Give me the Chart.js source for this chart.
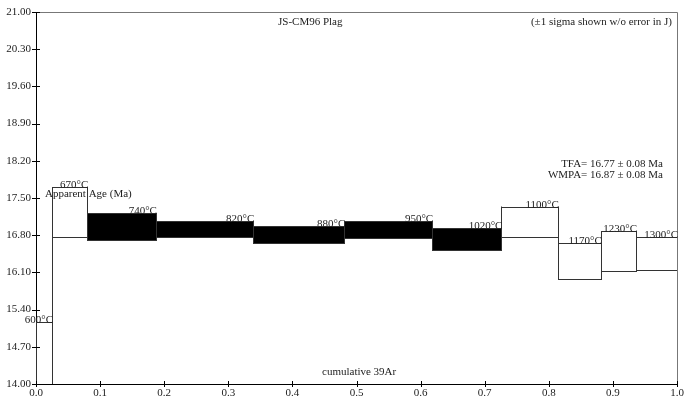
<!DOCTYPE html>
<html><head><meta charset="utf-8">
<script src="https://cdn.jsdelivr.net/npm/chart.js@4.4.1/dist/chart.umd.min.js"></script>
<style>html,body{margin:0;padding:0;background:#fff}#wrap{width:685px;height:402px;position:relative}</style>
</head><body><div id="wrap"><canvas id="c"></canvas></div>
<script>
// ---- data ----
const stepLabels = ['600°C','670°C','740°C','820°C','880°C','950°C','1020°C','1100°C','1170°C','1230°C','1300°C'];
const cumStart   = [0.000, 0.025, 0.080, 0.187, 0.339, 0.481, 0.618, 0.726, 0.814, 0.881, 0.936];
const cumEnd     = [0.025, 0.080, 0.187, 0.339, 0.481, 0.618, 0.726, 0.814, 0.881, 0.936, 1.000];
const ages       = [14.20, 17.235, 16.96, 16.92, 16.81, 16.905, 16.735, 17.055, 16.315, 16.50, 16.46];
const sigmas     = [0.97, 0.465, 0.25, 0.15, 0.16, 0.165, 0.205, 0.285, 0.345, 0.37, 0.31];
const inPlateau  = [false,false,true,true,true,true,true,false,false,false,false];
const xTicks = [0.0,0.1,0.2,0.3,0.4,0.5,0.6,0.7,0.8,0.9,1.0];
const yTicks = [14.00,14.70,15.40,16.10,16.80,17.50,18.20,18.90,19.60,20.30,21.00];
const sampleName = 'JS-CM96 Plag';
const sigmaNote = '(±1 sigma shown w/o error in J)';
const tfaText = 'TFA= 16.77 ± 0.08 Ma';
const wmpaText = 'WMPA= 16.87 ± 0.08 Ma';
const yTitle = 'Apparent Age (Ma)';
const xTitle = 'cumulative 39Ar';

const FONT = '11px "Liberation Serif", "Times New Roman", serif';

const spectrumPlugin = {
  id: 'spectrum',
  afterDatasetsDraw(chart) {
    const ctx = chart.ctx, ca = chart.chartArea;
    const xs = chart.scales.x, ys = chart.scales.y;
    const al = v => Math.round(v) + 0.5;
    ctx.save();
    ctx.beginPath(); ctx.rect(ca.left, ca.top, ca.right - ca.left, ca.bottom - ca.top); ctx.clip();
    ctx.lineWidth = 1;
    ctx.strokeStyle = '#333';
    // connectors between adjacent steps
    for (let i = 0; i < ages.length - 1; i++) {
      const lo = Math.min(ages[i]-sigmas[i], ages[i+1]-sigmas[i+1]);
      const hi = Math.max(ages[i]+sigmas[i], ages[i+1]+sigmas[i+1]);
      const x = al(xs.getPixelForValue(cumEnd[i]));
      ctx.beginPath();
      ctx.moveTo(x, ys.getPixelForValue(lo));
      ctx.lineTo(x, ys.getPixelForValue(hi));
      ctx.stroke();
    }
    // boxes
    for (let i = 0; i < ages.length; i++) {
      const x0 = al(xs.getPixelForValue(cumStart[i]));
      const x1 = al(xs.getPixelForValue(cumEnd[i]));
      const yT = al(ys.getPixelForValue(ages[i] + sigmas[i]));
      const yB = al(ys.getPixelForValue(ages[i] - sigmas[i]));
      if (inPlateau[i]) {
        ctx.fillStyle = '#000';
        ctx.fillRect(x0, yT, x1 - x0, yB - yT);
      }
      ctx.strokeStyle = '#333';
      ctx.strokeRect(x0, yT, x1 - x0, yB - yT);
    }
    ctx.restore();

    ctx.save();
    // frame: top & right in grey
    ctx.strokeStyle = '#777'; ctx.lineWidth = 1;
    ctx.beginPath();
    ctx.moveTo(al(ca.left), al(ca.top));
    ctx.lineTo(al(ca.right), al(ca.top));
    ctx.lineTo(al(ca.right), al(ca.bottom));
    ctx.stroke();
    // tick marks crossing the axes
    ctx.strokeStyle = '#000';
    yTicks.forEach(v => {
      const y = al(ys.getPixelForValue(v));
      ctx.beginPath(); ctx.moveTo(ca.left - 4, y); ctx.lineTo(ca.left + 4, y); ctx.stroke();
    });
    xTicks.forEach(v => {
      const x = al(xs.getPixelForValue(v));
      ctx.beginPath(); ctx.moveTo(x, ca.bottom - 3); ctx.lineTo(x, ca.bottom + 3); ctx.stroke();
    });
    // step labels
    ctx.font = FONT; ctx.fillStyle = '#222';
    ctx.textAlign = 'right'; ctx.textBaseline = 'alphabetic';
    for (let i = 0; i < ages.length; i++) {
      const x1 = xs.getPixelForValue(cumEnd[i]);
      const yT = ys.getPixelForValue(ages[i] + sigmas[i]);
      ctx.fillText(stepLabels[i], x1 + 1, yT + 1);
    }
    // annotations
    ctx.textBaseline = 'middle';
    ctx.textAlign = 'left';
    ctx.fillText(sampleName, ca.left + 242, ca.top + 10);
    ctx.fillText(yTitle, ca.left + 9, ca.top + 182);
    ctx.fillText(xTitle, ca.left + 286, ca.bottom - 12);
    ctx.textAlign = 'right';
    ctx.fillText(sigmaNote, ca.right - 5, ca.top + 10);
    ctx.fillText(tfaText, ca.right - 14, ca.top + 152);
    ctx.fillText(wmpaText, ca.right - 14, ca.top + 163);
    ctx.restore();
  }
};

new Chart(document.getElementById('c'), {
  type: 'scatter',
  data: {
    datasets: [{
      label: 'steps',
      data: ages.map((a, i) => ({x: (cumStart[i] + cumEnd[i]) / 2, y: a})),
      pointRadius: 0, showLine: false
    }]
  },
  options: {
    responsive: true, maintainAspectRatio: false, animation: false,
    layout: {padding: {top: 12, right: 8, left: 0, bottom: 0}},
    plugins: {legend: {display: false}, tooltip: {enabled: false}},
    scales: {
      x: {
        type: 'linear', position: 'bottom', min: 0, max: 1,
        afterBuildTicks: s => { s.ticks = xTicks.map(v => ({value: v})); },
        afterFit: s => { s.height = 18; },
        ticks: {callback: v => Number(v).toFixed(1), color: '#222', padding: 0,
                font: {family: '"Liberation Serif", "Times New Roman", serif', size: 11}, maxRotation: 0, autoSkip: false},
        grid: {display: false, drawTicks: true, tickLength: 3},
        border: {display: true, color: '#000', width: 1}
      },
      y: {
        type: 'linear', position: 'left', min: 14, max: 21,
        afterBuildTicks: s => { s.ticks = yTicks.map(v => ({value: v})); },
        afterFit: s => { s.width = 36; },
        ticks: {callback: v => Number(v).toFixed(2), color: '#222', padding: 1,
                font: {family: '"Liberation Serif", "Times New Roman", serif', size: 11}, autoSkip: false},
        grid: {display: false, drawTicks: true, tickLength: 4},
        border: {display: true, color: '#000', width: 1}
      }
    }
  },
  plugins: [spectrumPlugin]
});
</script>
</body></html>
